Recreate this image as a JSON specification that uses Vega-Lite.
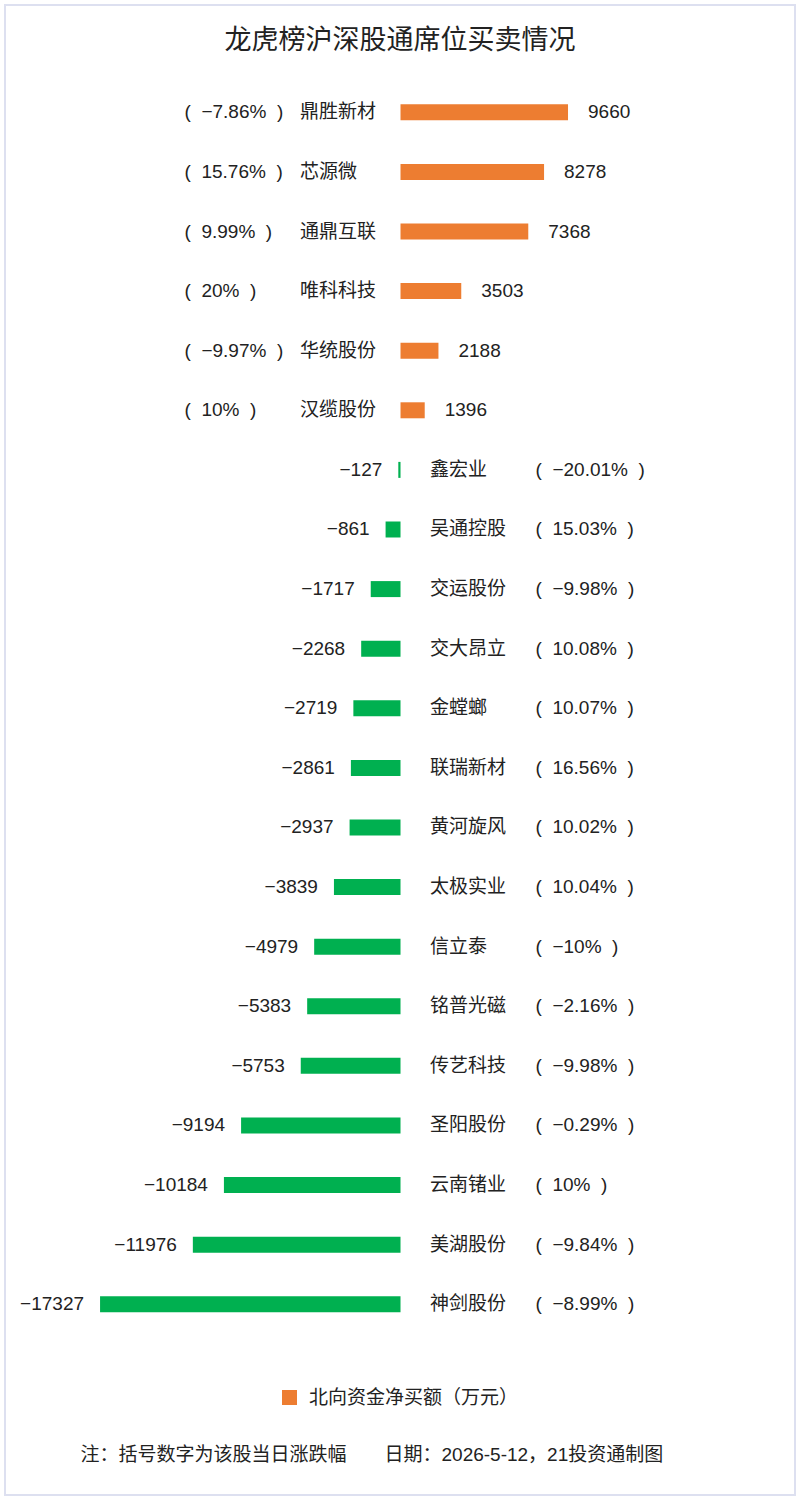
{
  "$schema": "https://vega.github.io/schema/vega-lite/v6.json",
  "width": 790,
  "height": 1490,
  "padding": 5,
  "autosize": {"type": "none"},
  "background": "white",
  "config": {
    "font": "Liberation Sans, Noto Sans CJK SC",
    "view": {"stroke": "#dde0f0", "strokeWidth": 2}
  },
  "title": {
    "text": "龙虎榜沪深股通席位买卖情况",
    "font": "Noto Sans CJK SC",
    "fontSize": 27,
    "fontWeight": "normal",
    "color": "#222222",
    "anchor": "middle",
    "offset": -50
  },
  "data": {
    "values": [
      {"rank": 0, "name": "鼎胜新材", "value": 9660, "pct": "(\u00a0 −7.86%\u00a0 )", "dir": "北向资金净买额（万元）"},
      {"rank": 1, "name": "芯源微", "value": 8278, "pct": "(\u00a0 15.76%\u00a0 )", "dir": "北向资金净买额（万元）"},
      {"rank": 2, "name": "通鼎互联", "value": 7368, "pct": "(\u00a0 9.99%\u00a0 )", "dir": "北向资金净买额（万元）"},
      {"rank": 3, "name": "唯科科技", "value": 3503, "pct": "(\u00a0 20%\u00a0 )", "dir": "北向资金净买额（万元）"},
      {"rank": 4, "name": "华统股份", "value": 2188, "pct": "(\u00a0 −9.97%\u00a0 )", "dir": "北向资金净买额（万元）"},
      {"rank": 5, "name": "汉缆股份", "value": 1396, "pct": "(\u00a0 10%\u00a0 )", "dir": "北向资金净买额（万元）"},
      {"rank": 6, "name": "鑫宏业", "value": -127, "pct": "(\u00a0 −20.01%\u00a0 )", "dir": "净卖"},
      {"rank": 7, "name": "吴通控股", "value": -861, "pct": "(\u00a0 15.03%\u00a0 )", "dir": "净卖"},
      {"rank": 8, "name": "交运股份", "value": -1717, "pct": "(\u00a0 −9.98%\u00a0 )", "dir": "净卖"},
      {"rank": 9, "name": "交大昂立", "value": -2268, "pct": "(\u00a0 10.08%\u00a0 )", "dir": "净卖"},
      {"rank": 10, "name": "金螳螂", "value": -2719, "pct": "(\u00a0 10.07%\u00a0 )", "dir": "净卖"},
      {"rank": 11, "name": "联瑞新材", "value": -2861, "pct": "(\u00a0 16.56%\u00a0 )", "dir": "净卖"},
      {"rank": 12, "name": "黄河旋风", "value": -2937, "pct": "(\u00a0 10.02%\u00a0 )", "dir": "净卖"},
      {"rank": 13, "name": "太极实业", "value": -3839, "pct": "(\u00a0 10.04%\u00a0 )", "dir": "净卖"},
      {"rank": 14, "name": "信立泰", "value": -4979, "pct": "(\u00a0 −10%\u00a0 )", "dir": "净卖"},
      {"rank": 15, "name": "铭普光磁", "value": -5383, "pct": "(\u00a0 −2.16%\u00a0 )", "dir": "净卖"},
      {"rank": 16, "name": "传艺科技", "value": -5753, "pct": "(\u00a0 −9.98%\u00a0 )", "dir": "净卖"},
      {"rank": 17, "name": "圣阳股份", "value": -9194, "pct": "(\u00a0 −0.29%\u00a0 )", "dir": "净卖"},
      {"rank": 18, "name": "云南锗业", "value": -10184, "pct": "(\u00a0 10%\u00a0 )", "dir": "净卖"},
      {"rank": 19, "name": "美湖股份", "value": -11976, "pct": "(\u00a0 −9.84%\u00a0 )", "dir": "净卖"},
      {"rank": 20, "name": "神剑股份", "value": -17327, "pct": "(\u00a0 −8.99%\u00a0 )", "dir": "净卖"}
    ]
  },
  "encoding": {
    "y": {
      "field": "rank",
      "type": "quantitative",
      "scale": {"domain": [-1.7167, 23.1167], "reverse": true, "nice": false, "zero": false},
      "axis": null
    }
  },
  "layer": [
    {
      "mark": {"type": "bar", "orient": "horizontal", "size": 16},
      "encoding": {
        "x": {
          "field": "value",
          "type": "quantitative",
          "scale": {"domain": [-22809, 22750], "nice": false, "zero": false},
          "axis": {
            "orient": "bottom",
            "offset": -50,
            "labels": false,
            "ticks": false,
            "domain": false,
            "grid": false,
            "title": "注：括号数字为该股当日涨跌幅　　日期：2026-5-12，21投资通制图",
            "titleFontSize": 19,
            "titleFontWeight": "normal",
            "titleColor": "#222222",
            "titlePadding": 0,
            "titleAnchor": "start",
            "titleAlign": "left",
            "titleX": 75
          }
        },
        "x2": {"datum": 0},
        "color": {
          "field": "dir",
          "type": "nominal",
          "scale": {"domain": ["北向资金净买额（万元）", "净卖"], "range": ["#ED7D31", "#00B050"]},
          "legend": {
            "orient": "none",
            "legendX": 275,
            "legendY": 1383,
            "title": null,
            "values": ["北向资金净买额（万元）"],
            "symbolType": "square",
            "symbolSize": 225,
            "symbolStrokeWidth": 0,
            "labelFontSize": 19,
            "labelColor": "#222222",
            "labelLimit": 400,
            "labelOffset": 10,
            "padding": 0
          }
        }
      }
    },
    {
      "transform": [{"filter": "datum.value > 0"}],
      "mark": {"type": "text", "align": "left", "baseline": "middle", "dx": 20, "fontSize": 19, "color": "#222222"},
      "encoding": {"x": {"field": "value", "type": "quantitative"}, "text": {"field": "value", "type": "quantitative", "format": "d"}}
    },
    {
      "transform": [{"filter": "datum.value < 0"}],
      "mark": {"type": "text", "align": "right", "baseline": "middle", "dx": -16, "fontSize": 19, "color": "#222222"},
      "encoding": {"x": {"field": "value", "type": "quantitative"}, "text": {"field": "value", "type": "quantitative", "format": "d"}}
    },
    {
      "transform": [{"filter": "datum.value > 0"}],
      "mark": {"type": "text", "align": "left", "baseline": "middle", "dx": -100.5, "fontSize": 19, "color": "#222222"},
      "encoding": {"x": {"datum": 0}, "text": {"field": "name", "type": "nominal"}}
    },
    {
      "transform": [{"filter": "datum.value > 0"}],
      "mark": {"type": "text", "align": "left", "baseline": "middle", "dx": -216, "fontSize": 19, "color": "#222222"},
      "encoding": {"x": {"datum": 0}, "text": {"field": "pct", "type": "nominal"}}
    },
    {
      "transform": [{"filter": "datum.value < 0"}],
      "mark": {"type": "text", "align": "left", "baseline": "middle", "dx": 29.5, "fontSize": 19, "color": "#222222"},
      "encoding": {"x": {"datum": 0}, "text": {"field": "name", "type": "nominal"}}
    },
    {
      "transform": [{"filter": "datum.value < 0"}],
      "mark": {"type": "text", "align": "left", "baseline": "middle", "dx": 135, "fontSize": 19, "color": "#222222"},
      "encoding": {"x": {"datum": 0}, "text": {"field": "pct", "type": "nominal"}}
    }
  ]
}
